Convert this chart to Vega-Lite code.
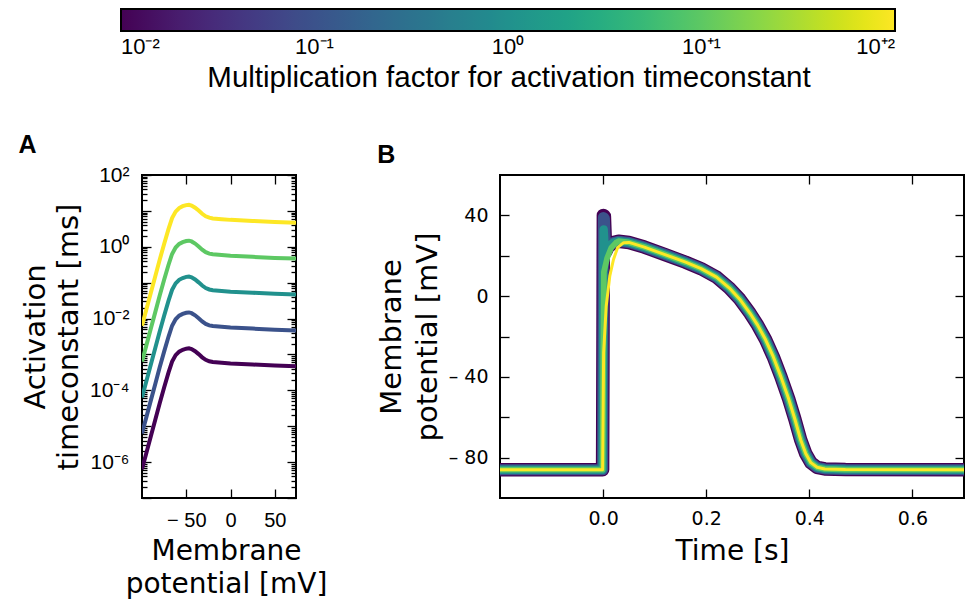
{
  "$schema": "https://vega.github.io/schema/vega-lite/v6.json",
  "background": "white",
  "padding": {"left": 17, "top": 9, "right": 4, "bottom": 0},
  "config": {
    "view": {"stroke": "black", "strokeWidth": 2},
    "axis": {"domain": false, "grid": false, "tickColor": "black", "tickWidth": 1.3, "labelColor": "black", "titleColor": "black", "titleFontWeight": "normal", "labelOverlap": false, "labelFlush": false, "labelLimit": 0, "titleLimit": 0}
  },
  "datasets": {
    "tau": [
      {"V": -100, "tau": 6.31e-7, "f": 0.01}, {"V": -95, "tau": 1.82e-6, "f": 0.01}, {"V": -90, "tau": 5.25e-6, "f": 0.01}, {"V": -85, "tau": 1.51e-5, "f": 0.01}, {"V": -80, "tau": 4.37e-5, "f": 0.01}, {"V": -75, "tau": 1.20e-4, "f": 0.01}, {"V": -70, "tau": 3.16e-4, "f": 0.01}, {"V": -66, "tau": 6.31e-4, "f": 0.01}, {"V": -62, "tau": 9.55e-4, "f": 0.01}, {"V": -58, "tau": 1.20e-3, "f": 0.01}, {"V": -54, "tau": 1.35e-3, "f": 0.01}, {"V": -50, "tau": 1.45e-3, "f": 0.01}, {"V": -47, "tau": 1.48e-3, "f": 0.01}, {"V": -44, "tau": 1.41e-3, "f": 0.01}, {"V": -40, "tau": 1.23e-3, "f": 0.01}, {"V": -36, "tau": 1.02e-3, "f": 0.01}, {"V": -32, "tau": 8.32e-4, "f": 0.01}, {"V": -28, "tau": 7.08e-4, "f": 0.01}, {"V": -24, "tau": 6.46e-4, "f": 0.01}, {"V": -20, "tau": 6.17e-4, "f": 0.01}, {"V": -10, "tau": 5.89e-4, "f": 0.01}, {"V": 0, "tau": 5.62e-4, "f": 0.01}, {"V": 25, "tau": 5.25e-4, "f": 0.01}, {"V": 50, "tau": 4.90e-4, "f": 0.01}, {"V": 74, "tau": 4.68e-4, "f": 0.01},
      {"V": -100, "tau": 6.31e-6, "f": 0.1}, {"V": -95, "tau": 1.82e-5, "f": 0.1}, {"V": -90, "tau": 5.25e-5, "f": 0.1}, {"V": -85, "tau": 1.51e-4, "f": 0.1}, {"V": -80, "tau": 4.37e-4, "f": 0.1}, {"V": -75, "tau": 1.20e-3, "f": 0.1}, {"V": -70, "tau": 3.16e-3, "f": 0.1}, {"V": -66, "tau": 6.31e-3, "f": 0.1}, {"V": -62, "tau": 9.55e-3, "f": 0.1}, {"V": -58, "tau": 1.20e-2, "f": 0.1}, {"V": -54, "tau": 1.35e-2, "f": 0.1}, {"V": -50, "tau": 1.45e-2, "f": 0.1}, {"V": -47, "tau": 1.48e-2, "f": 0.1}, {"V": -44, "tau": 1.41e-2, "f": 0.1}, {"V": -40, "tau": 1.23e-2, "f": 0.1}, {"V": -36, "tau": 1.02e-2, "f": 0.1}, {"V": -32, "tau": 8.32e-3, "f": 0.1}, {"V": -28, "tau": 7.08e-3, "f": 0.1}, {"V": -24, "tau": 6.46e-3, "f": 0.1}, {"V": -20, "tau": 6.17e-3, "f": 0.1}, {"V": -10, "tau": 5.89e-3, "f": 0.1}, {"V": 0, "tau": 5.62e-3, "f": 0.1}, {"V": 25, "tau": 5.25e-3, "f": 0.1}, {"V": 50, "tau": 4.90e-3, "f": 0.1}, {"V": 74, "tau": 4.68e-3, "f": 0.1},
      {"V": -100, "tau": 6.31e-5, "f": 1}, {"V": -95, "tau": 1.82e-4, "f": 1}, {"V": -90, "tau": 5.25e-4, "f": 1}, {"V": -85, "tau": 1.51e-3, "f": 1}, {"V": -80, "tau": 4.37e-3, "f": 1}, {"V": -75, "tau": 1.20e-2, "f": 1}, {"V": -70, "tau": 3.16e-2, "f": 1}, {"V": -66, "tau": 6.31e-2, "f": 1}, {"V": -62, "tau": 9.55e-2, "f": 1}, {"V": -58, "tau": 0.120, "f": 1}, {"V": -54, "tau": 0.135, "f": 1}, {"V": -50, "tau": 0.145, "f": 1}, {"V": -47, "tau": 0.148, "f": 1}, {"V": -44, "tau": 0.141, "f": 1}, {"V": -40, "tau": 0.123, "f": 1}, {"V": -36, "tau": 0.102, "f": 1}, {"V": -32, "tau": 0.0832, "f": 1}, {"V": -28, "tau": 0.0708, "f": 1}, {"V": -24, "tau": 0.0646, "f": 1}, {"V": -20, "tau": 0.0617, "f": 1}, {"V": -10, "tau": 0.0589, "f": 1}, {"V": 0, "tau": 0.0562, "f": 1}, {"V": 25, "tau": 0.0525, "f": 1}, {"V": 50, "tau": 0.0490, "f": 1}, {"V": 74, "tau": 0.0468, "f": 1},
      {"V": -100, "tau": 6.31e-4, "f": 10}, {"V": -95, "tau": 1.82e-3, "f": 10}, {"V": -90, "tau": 5.25e-3, "f": 10}, {"V": -85, "tau": 1.51e-2, "f": 10}, {"V": -80, "tau": 4.37e-2, "f": 10}, {"V": -75, "tau": 0.120, "f": 10}, {"V": -70, "tau": 0.316, "f": 10}, {"V": -66, "tau": 0.631, "f": 10}, {"V": -62, "tau": 0.955, "f": 10}, {"V": -58, "tau": 1.20, "f": 10}, {"V": -54, "tau": 1.35, "f": 10}, {"V": -50, "tau": 1.45, "f": 10}, {"V": -47, "tau": 1.48, "f": 10}, {"V": -44, "tau": 1.41, "f": 10}, {"V": -40, "tau": 1.23, "f": 10}, {"V": -36, "tau": 1.02, "f": 10}, {"V": -32, "tau": 0.832, "f": 10}, {"V": -28, "tau": 0.708, "f": 10}, {"V": -24, "tau": 0.646, "f": 10}, {"V": -20, "tau": 0.617, "f": 10}, {"V": -10, "tau": 0.589, "f": 10}, {"V": 0, "tau": 0.562, "f": 10}, {"V": 25, "tau": 0.525, "f": 10}, {"V": 50, "tau": 0.490, "f": 10}, {"V": 74, "tau": 0.468, "f": 10},
      {"V": -100, "tau": 6.31e-3, "f": 100}, {"V": -95, "tau": 1.82e-2, "f": 100}, {"V": -90, "tau": 5.25e-2, "f": 100}, {"V": -85, "tau": 0.151, "f": 100}, {"V": -80, "tau": 0.437, "f": 100}, {"V": -75, "tau": 1.20, "f": 100}, {"V": -70, "tau": 3.16, "f": 100}, {"V": -66, "tau": 6.31, "f": 100}, {"V": -62, "tau": 9.55, "f": 100}, {"V": -58, "tau": 12.0, "f": 100}, {"V": -54, "tau": 13.5, "f": 100}, {"V": -50, "tau": 14.5, "f": 100}, {"V": -47, "tau": 14.8, "f": 100}, {"V": -44, "tau": 14.1, "f": 100}, {"V": -40, "tau": 12.3, "f": 100}, {"V": -36, "tau": 10.2, "f": 100}, {"V": -32, "tau": 8.32, "f": 100}, {"V": -28, "tau": 7.08, "f": 100}, {"V": -24, "tau": 6.46, "f": 100}, {"V": -20, "tau": 6.17, "f": 100}, {"V": -10, "tau": 5.89, "f": 100}, {"V": 0, "tau": 5.62, "f": 100}, {"V": 25, "tau": 5.25, "f": 100}, {"V": 50, "tau": 4.90, "f": 100}, {"V": 74, "tau": 4.68, "f": 100}
    ],
    "ap": [
      {"t": -0.2, "V": -86, "f": 0.01}, {"t": -0.001, "V": -86, "f": 0.01}, {"t": 0.0005, "V": 40, "f": 0.01}, {"t": 0.0025, "V": 39.5, "f": 0.01}, {"t": 0.005, "V": 22, "f": 0.01}, {"t": 0.01, "V": 24.5, "f": 0.01}, {"t": 0.02, "V": 26.5, "f": 0.01},
      {"t": 0.03, "V": 27.2, "f": 0.01}, {"t": 0.05, "V": 26.6, "f": 0.01}, {"t": 0.08, "V": 24.3, "f": 0.01}, {"t": 0.12, "V": 20.6, "f": 0.01}, {"t": 0.16, "V": 16.8, "f": 0.01}, {"t": 0.19, "V": 13.6, "f": 0.01}, {"t": 0.22, "V": 9.4, "f": 0.01}, {"t": 0.245, "V": 4.0, "f": 0.01}, {"t": 0.265, "V": -1.5, "f": 0.01}, {"t": 0.285, "V": -8.5, "f": 0.01}, {"t": 0.3, "V": -14.5, "f": 0.01}, {"t": 0.315, "V": -21.5, "f": 0.01}, {"t": 0.33, "V": -30, "f": 0.01}, {"t": 0.345, "V": -40, "f": 0.01}, {"t": 0.36, "V": -51, "f": 0.01}, {"t": 0.372, "V": -61, "f": 0.01}, {"t": 0.383, "V": -71, "f": 0.01}, {"t": 0.393, "V": -78, "f": 0.01}, {"t": 0.403, "V": -82.5, "f": 0.01}, {"t": 0.415, "V": -84.8, "f": 0.01}, {"t": 0.43, "V": -85.6, "f": 0.01}, {"t": 0.47, "V": -85.9, "f": 0.01}, {"t": 0.7, "V": -86, "f": 0.01},
      {"t": -0.2, "V": -86, "f": 0.1}, {"t": -0.001, "V": -86, "f": 0.1}, {"t": 0.0005, "V": 39, "f": 0.1}, {"t": 0.0025, "V": 38.5, "f": 0.1}, {"t": 0.005, "V": 22, "f": 0.1}, {"t": 0.01, "V": 24.5, "f": 0.1}, {"t": 0.02, "V": 26.5, "f": 0.1},
      {"t": 0.03, "V": 27.2, "f": 0.1}, {"t": 0.05, "V": 26.6, "f": 0.1}, {"t": 0.08, "V": 24.3, "f": 0.1}, {"t": 0.12, "V": 20.6, "f": 0.1}, {"t": 0.16, "V": 16.8, "f": 0.1}, {"t": 0.19, "V": 13.6, "f": 0.1}, {"t": 0.22, "V": 9.4, "f": 0.1}, {"t": 0.245, "V": 4.0, "f": 0.1}, {"t": 0.265, "V": -1.5, "f": 0.1}, {"t": 0.285, "V": -8.5, "f": 0.1}, {"t": 0.3, "V": -14.5, "f": 0.1}, {"t": 0.315, "V": -21.5, "f": 0.1}, {"t": 0.33, "V": -30, "f": 0.1}, {"t": 0.345, "V": -40, "f": 0.1}, {"t": 0.36, "V": -51, "f": 0.1}, {"t": 0.372, "V": -61, "f": 0.1}, {"t": 0.383, "V": -71, "f": 0.1}, {"t": 0.393, "V": -78, "f": 0.1}, {"t": 0.403, "V": -82.5, "f": 0.1}, {"t": 0.415, "V": -84.8, "f": 0.1}, {"t": 0.43, "V": -85.6, "f": 0.1}, {"t": 0.47, "V": -85.9, "f": 0.1}, {"t": 0.7, "V": -86, "f": 0.1},
      {"t": -0.2, "V": -86, "f": 1}, {"t": -0.001, "V": -86, "f": 1}, {"t": 0.001, "V": 33, "f": 1}, {"t": 0.0035, "V": 22, "f": 1}, {"t": 0.01, "V": 24.5, "f": 1}, {"t": 0.02, "V": 26.5, "f": 1},
      {"t": 0.03, "V": 27.2, "f": 1}, {"t": 0.05, "V": 26.6, "f": 1}, {"t": 0.08, "V": 24.3, "f": 1}, {"t": 0.12, "V": 20.6, "f": 1}, {"t": 0.16, "V": 16.8, "f": 1}, {"t": 0.19, "V": 13.6, "f": 1}, {"t": 0.22, "V": 9.4, "f": 1}, {"t": 0.245, "V": 4.0, "f": 1}, {"t": 0.265, "V": -1.5, "f": 1}, {"t": 0.285, "V": -8.5, "f": 1}, {"t": 0.3, "V": -14.5, "f": 1}, {"t": 0.315, "V": -21.5, "f": 1}, {"t": 0.33, "V": -30, "f": 1}, {"t": 0.345, "V": -40, "f": 1}, {"t": 0.36, "V": -51, "f": 1}, {"t": 0.372, "V": -61, "f": 1}, {"t": 0.383, "V": -71, "f": 1}, {"t": 0.393, "V": -78, "f": 1}, {"t": 0.403, "V": -82.5, "f": 1}, {"t": 0.415, "V": -84.8, "f": 1}, {"t": 0.43, "V": -85.6, "f": 1}, {"t": 0.47, "V": -85.9, "f": 1}, {"t": 0.7, "V": -86, "f": 1},
      {"t": -0.2, "V": -86, "f": 10}, {"t": -0.001, "V": -86, "f": 10}, {"t": 0.0015, "V": 12, "f": 10}, {"t": 0.008, "V": 19, "f": 10}, {"t": 0.016, "V": 24, "f": 10}, {"t": 0.025, "V": 26.5, "f": 10},
      {"t": 0.03, "V": 27.2, "f": 10}, {"t": 0.05, "V": 26.6, "f": 10}, {"t": 0.08, "V": 24.3, "f": 10}, {"t": 0.12, "V": 20.6, "f": 10}, {"t": 0.16, "V": 16.8, "f": 10}, {"t": 0.19, "V": 13.6, "f": 10}, {"t": 0.22, "V": 9.4, "f": 10}, {"t": 0.245, "V": 4.0, "f": 10}, {"t": 0.265, "V": -1.5, "f": 10}, {"t": 0.285, "V": -8.5, "f": 10}, {"t": 0.3, "V": -14.5, "f": 10}, {"t": 0.315, "V": -21.5, "f": 10}, {"t": 0.33, "V": -30, "f": 10}, {"t": 0.345, "V": -40, "f": 10}, {"t": 0.36, "V": -51, "f": 10}, {"t": 0.372, "V": -61, "f": 10}, {"t": 0.383, "V": -71, "f": 10}, {"t": 0.393, "V": -78, "f": 10}, {"t": 0.403, "V": -82.5, "f": 10}, {"t": 0.415, "V": -84.8, "f": 10}, {"t": 0.43, "V": -85.6, "f": 10}, {"t": 0.47, "V": -85.9, "f": 10}, {"t": 0.7, "V": -86, "f": 10},
      {"t": -0.2, "V": -86, "f": 100}, {"t": -0.001, "V": -86, "f": 100}, {"t": 0.001, "V": -28, "f": 100}, {"t": 0.006, "V": -5, "f": 100}, {"t": 0.013, "V": 10, "f": 100}, {"t": 0.02, "V": 18, "f": 100}, {"t": 0.028, "V": 24, "f": 100}, {"t": 0.04, "V": 26.5, "f": 100},
      {"t": 0.05, "V": 26.6, "f": 100}, {"t": 0.08, "V": 24.3, "f": 100}, {"t": 0.12, "V": 20.6, "f": 100}, {"t": 0.16, "V": 16.8, "f": 100}, {"t": 0.19, "V": 13.6, "f": 100}, {"t": 0.22, "V": 9.4, "f": 100}, {"t": 0.245, "V": 4.0, "f": 100}, {"t": 0.265, "V": -1.5, "f": 100}, {"t": 0.285, "V": -8.5, "f": 100}, {"t": 0.3, "V": -14.5, "f": 100}, {"t": 0.315, "V": -21.5, "f": 100}, {"t": 0.33, "V": -30, "f": 100}, {"t": 0.345, "V": -40, "f": 100}, {"t": 0.36, "V": -51, "f": 100}, {"t": 0.372, "V": -61, "f": 100}, {"t": 0.383, "V": -71, "f": 100}, {"t": 0.393, "V": -78, "f": 100}, {"t": 0.403, "V": -82.5, "f": 100}, {"t": 0.415, "V": -84.8, "f": 100}, {"t": 0.43, "V": -85.6, "f": 100}, {"t": 0.47, "V": -85.9, "f": 100}, {"t": 0.7, "V": -86, "f": 100}
    ]
  },
  "spacing": 48,
  "hconcat": [
    {
      "width": 154,
      "height": 323,
      "title": {"text": "A", "anchor": "start", "frame": "bounds", "font": "Liberation Sans", "fontSize": 25, "fontWeight": "bold", "color": "black", "offset": 6, "dx": -3},
      "data": {"name": "tau"},
      "layer": [
        {
          "mark": {"type": "line", "opacity": 0},
          "encoding": {
            "x": {"field": "V", "type": "quantitative", "scale": {"domain": [-100, 74], "nice": false, "zero": false},
                  "axis": {"orient": "top", "values": [-50, 0, 50], "labels": false, "tickSize": -9, "title": null}},
            "y": {"field": "tau", "type": "quantitative", "scale": {"type": "log", "domain": [1e-7, 100], "nice": false},
                  "axis": {"orient": "right", "labels": false, "title": null, "tickCount": 20,
                           "tickSize": {"condition": {"test": "abs(log(datum.value)/LN10 - round(log(datum.value)/LN10)) < 0.001", "value": -9}, "value": -5}}},
            "detail": {"field": "f", "type": "nominal"}
          }
        },
        {
          "mark": {"type": "line", "strokeWidth": 4, "clip": true},
          "encoding": {
            "x": {"field": "V", "type": "quantitative", "scale": {"domain": [-100, 74], "nice": false, "zero": false},
                  "axis": {"orient": "bottom", "values": [-50, 0, 50], "tickSize": -9, "labelPadding": 21,
                           "labelExpr": "datum.value < 0 ? '\u2212 ' + abs(datum.value) : datum.label",
                           "labelFont": "Liberation Sans", "labelFontSize": 20,
                           "title": ["Membrane", "potential [mV]"], "titleFont": "DejaVu Sans", "titleFontSize": 28, "titleLineHeight": 33, "titleBaseline": "top", "titleY": 39, "titleX": 84}},
            "y": {"field": "tau", "type": "quantitative", "scale": {"type": "log", "domain": [1e-7, 100], "nice": false},
                  "axis": {"orient": "left", "tickCount": 20,
                           "tickSize": {"condition": {"test": "abs(log(datum.value)/LN10 - round(log(datum.value)/LN10)) < 0.001", "value": -9}, "value": -5},
                           "labelPadding": 22,
                           "labelExpr": "abs(log(datum.value)/LN10 - round(log(datum.value)/LN10)) > 0.001 ? '' : round(log(datum.value)/LN10) == 2 ? '10\u00b2' : round(log(datum.value)/LN10) == 0 ? '10\u2070' : round(log(datum.value)/LN10) == -2 ? '10\u207b\u00b2' : round(log(datum.value)/LN10) == -4 ? '10\u207b\u2074' : round(log(datum.value)/LN10) == -6 ? '10\u207b\u2076' : ''",
                           "labelFont": "Liberation Sans", "labelFontSize": 21,
                           "title": ["Activation", "timeconstant [ms]"], "titleFont": "DejaVu Sans", "titleFontSize": 29, "titleLineHeight": 33, "titlePadding": 6}},
            "color": {"field": "f", "type": "quantitative", "scale": {"type": "log", "domain": [0.01, 100], "scheme": "viridis"},
                      "legend": {"type": "gradient", "orient": "none", "legendX": -21, "legendY": -166, "direction": "horizontal",
                                 "gradientLength": 774, "gradientThickness": 22, "gradientStrokeColor": "black", "gradientStrokeWidth": 2,
                                 "values": [0.01, 0.1, 1, 10, 100],
                                 "labelExpr": "datum.value < 0.05 ? '10\u207b\u00b2' : datum.value < 0.5 ? '10\u207b\u00b9' : datum.value < 5 ? '10\u2070' : datum.value < 50 ? '10\u207a\u00b9' : '10\u207a\u00b2'",
                                 "labelAlign": "center", "labelOverlap": false, "labelFont": "Liberation Sans", "labelFontSize": 22, "labelColor": "black", "labelOffset": 6, "labelLimit": 0,
                                 "title": "Multiplication factor for activation timeconstant", "titleOrient": "bottom", "titleAnchor": "middle",
                                 "titleFont": "Liberation Sans", "titleFontSize": 29.5, "titleFontWeight": "normal", "titleColor": "black", "titlePadding": 6, "titleLimit": 0}}
          }
        }
      ],
      "resolve": {"axis": {"x": "independent", "y": "independent"}}
    },
    {
      "width": 464,
      "height": 323,
      "title": {"text": "B", "anchor": "start", "frame": "bounds", "font": "Liberation Sans", "fontSize": 25, "fontWeight": "bold", "color": "black", "offset": 6, "dx": 0},
      "data": {"name": "ap"},
      "layer": [
        {
          "mark": {"type": "line", "opacity": 0},
          "encoding": {
            "x": {"field": "t", "type": "quantitative", "scale": {"domain": [-0.2, 0.7], "nice": false, "zero": false},
                  "axis": {"orient": "top", "values": [0, 0.2, 0.4, 0.6], "labels": false, "tickSize": -9, "title": null}},
            "y": {"field": "V", "type": "quantitative", "scale": {"domain": [-100, 60], "nice": false, "zero": false},
                  "axis": {"orient": "right", "values": [-80, -60, -40, -20, 0, 20, 40], "labels": false, "tickSize": -9, "title": null}},
            "detail": {"field": "f", "type": "nominal"}
          }
        },
        {
          "mark": {"type": "line", "strokeCap": "round", "strokeJoin": "round", "clip": true},
          "encoding": {
            "x": {"field": "t", "type": "quantitative", "scale": {"domain": [-0.2, 0.7], "nice": false, "zero": false},
                  "axis": {"orient": "bottom", "values": [0, 0.2, 0.4, 0.6], "format": ".1f", "tickSize": -9, "labelPadding": 20,
                           "labelFont": "DejaVu Sans", "labelFontSize": 19,
                           "title": "Time [s]", "titleFont": "DejaVu Sans", "titleFontSize": 28, "titleBaseline": "top", "titleY": 39}},
            "y": {"field": "V", "type": "quantitative", "scale": {"domain": [-100, 60], "nice": false, "zero": false},
                  "axis": {"orient": "left", "values": [-80, -60, -40, -20, 0, 20, 40], "tickSize": -9, "labelPadding": 21,
                           "labelExpr": "datum.value == 40 ? '40' : datum.value == 0 ? '0' : datum.value == -40 ? '\u2013 40' : datum.value == -80 ? '\u2013 80' : ''",
                           "labelFont": "DejaVu Sans", "labelFontSize": 19,
                           "title": ["Membrane", "potential [mV]"], "titleFont": "DejaVu Sans", "titleFontSize": 29, "titleLineHeight": 36, "titlePadding": 6}},
            "color": {"field": "f", "type": "quantitative", "scale": {"type": "log", "domain": [0.01, 100], "scheme": "viridis"},
                      "legend": {"type": "gradient", "orient": "none", "legendX": -21, "legendY": -166, "direction": "horizontal",
                                 "gradientLength": 774, "gradientThickness": 22, "gradientStrokeColor": "black", "gradientStrokeWidth": 2,
                                 "values": [0.01, 0.1, 1, 10, 100],
                                 "labelExpr": "datum.value < 0.05 ? '10\u207b\u00b2' : datum.value < 0.5 ? '10\u207b\u00b9' : datum.value < 5 ? '10\u2070' : datum.value < 50 ? '10\u207a\u00b9' : '10\u207a\u00b2'",
                                 "labelAlign": "center", "labelOverlap": false, "labelFont": "Liberation Sans", "labelFontSize": 22, "labelColor": "black", "labelOffset": 6, "labelLimit": 0,
                                 "title": "Multiplication factor for activation timeconstant", "titleOrient": "bottom", "titleAnchor": "middle",
                                 "titleFont": "Liberation Sans", "titleFontSize": 29.5, "titleFontWeight": "normal", "titleColor": "black", "titlePadding": 6, "titleLimit": 0}},
            "strokeWidth": {"condition": [{"test": "datum.f < 0.05", "value": 13.5}, {"test": "datum.f < 0.5", "value": 11}, {"test": "datum.f < 5", "value": 8.5}, {"test": "datum.f < 50", "value": 5.75}], "value": 3}
          }
        }
      ],
      "resolve": {"axis": {"x": "independent", "y": "independent"}}
    }
  ]
}
